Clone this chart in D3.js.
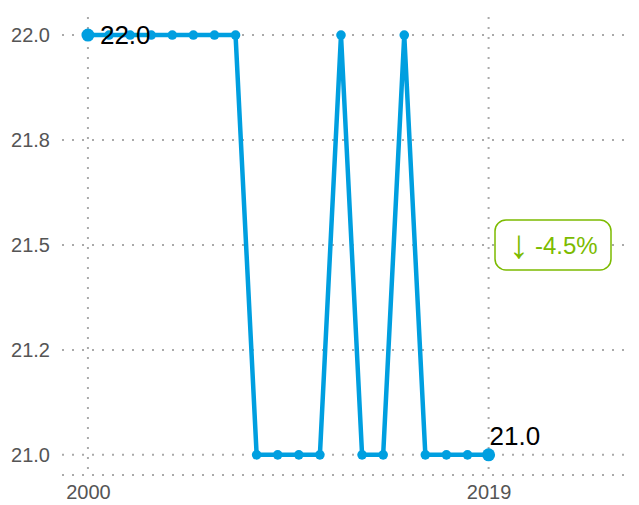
<!DOCTYPE html>
<html>
<head>
<meta charset="utf-8">
<script src="https://cdn.jsdelivr.net/npm/d3@7"></script>
<style>
  body { margin: 0; background: #fff; }
  svg text { font-family: "Liberation Sans", Arial, sans-serif; }
</style>
</head>
<body>
<svg id="chart" width="639" height="505"></svg>
<script>
// data
const years = [2000, 2001, 2002, 2003, 2004, 2005, 2006, 2007, 2008, 2009,
               2010, 2011, 2012, 2013, 2014, 2015, 2016, 2017, 2018, 2019];
const values = [22, 22, 22, 22, 22, 22, 22, 22, 21, 21,
                21, 21, 22, 21, 21, 22, 21, 21, 21, 21];
const yTicks = [21.0, 21.25, 21.5, 21.75, 22.0];
const yTickLabels = ["21.0", "21.2", "21.5", "21.8", "22.0"];
const xTicks = [2000, 2019];
const changeArrow = "↓";
const changeText = "-4.5%";

const svg = d3.select("#chart");
const blue = "#009fe0";
const green = "#7cbb00";
const gridColor = "#aaa";

const xScale = d3.scaleLinear().domain([1998.77, 2025.8]).range([62, 632]);
const yScale = d3.scaleLinear().domain([20.952, 22.043]).range([475, 17]);

const data = years.map((y, i) => ({ year: y, value: values[i] }));

// horizontal grid
svg.append("g")
  .selectAll("line")
  .data(yTicks)
  .enter()
  .append("line")
  .attr("x1", xScale.range()[0])
  .attr("x2", xScale.range()[1])
  .attr("y1", d => yScale(d))
  .attr("y2", d => yScale(d))
  .attr("stroke", gridColor)
  .attr("stroke-width", 2)
  .attr("stroke-dasharray", "2,8");

// bottom baseline
svg.append("line")
  .attr("x1", xScale.range()[0])
  .attr("x2", xScale.range()[1])
  .attr("y1", yScale.range()[0])
  .attr("y2", yScale.range()[0])
  .attr("stroke", gridColor)
  .attr("stroke-width", 2)
  .attr("stroke-dasharray", "2,8");

// vertical grid
svg.append("g")
  .selectAll("line")
  .data(xTicks)
  .enter()
  .append("line")
  .attr("x1", d => xScale(d))
  .attr("x2", d => xScale(d))
  .attr("y1", yScale.range()[1])
  .attr("y2", yScale.range()[0])
  .attr("stroke", gridColor)
  .attr("stroke-width", 2)
  .attr("stroke-dasharray", "2,8");

// y axis labels
const yAxis = d3.axisLeft(yScale)
  .tickValues(yTicks)
  .tickFormat((d, i) => yTickLabels[i])
  .tickSize(0)
  .tickPadding(12);
svg.append("g")
  .attr("transform", `translate(${xScale.range()[0]},0)`)
  .call(yAxis)
  .call(g => g.select(".domain").remove())
  .selectAll("text")
  .attr("fill", "#555")
  .style("font-size", "20px")
  .style("font-family", "Liberation Sans, Arial, sans-serif");

// x axis labels
const xAxis = d3.axisBottom(xScale).tickValues(xTicks).tickFormat(d3.format("d")).tickSize(0).tickPadding(10);
svg.append("g")
  .attr("transform", `translate(0,${yScale.range()[0]})`)
  .call(xAxis)
  .call(g => g.select(".domain").remove())
  .selectAll("text")
  .attr("fill", "#555")
  .style("font-size", "20px")
  .style("font-family", "Liberation Sans, Arial, sans-serif");

// line
const line = d3.line()
  .x(d => xScale(d.year))
  .y(d => yScale(d.value));

svg.append("path")
  .datum(data)
  .attr("d", line)
  .attr("fill", "none")
  .attr("stroke", blue)
  .attr("stroke-width", 4.5)
  .attr("stroke-linejoin", "round");

// points
svg.append("g")
  .selectAll("circle")
  .data(data)
  .enter()
  .append("circle")
  .attr("cx", d => xScale(d.year))
  .attr("cy", d => yScale(d.value))
  .attr("r", (d, i) => (i === 0 || i === data.length - 1) ? 6.5 : 4.8)
  .attr("fill", blue);

// end labels
const first = data[0];
const last = data[data.length - 1];
svg.append("text")
  .attr("x", xScale(first.year) + 12)
  .attr("y", yScale(first.value) + 9)
  .attr("fill", "#000")
  .style("font-size", "26px")
  .text(d3.format(".1f")(first.value));

svg.append("text")
  .attr("x", xScale(last.year) + 1)
  .attr("y", yScale(last.value) - 10)
  .attr("fill", "#000")
  .style("font-size", "26px")
  .text(d3.format(".1f")(last.value));

// change badge
const midY = yScale(21.5);
const badge = svg.append("g");
badge.append("rect")
  .attr("x", 495)
  .attr("y", midY - 25)
  .attr("width", 116)
  .attr("height", 50)
  .attr("rx", 11)
  .attr("fill", "#fff")
  .attr("stroke", green)
  .attr("stroke-width", 1.5);
const badgeText = badge.append("text")
  .attr("x", 509)
  .attr("y", midY + 9)
  .attr("fill", green)
  .style("font-size", "24px")
  .style("font-family", "Liberation Sans, Arial, sans-serif");
badgeText.append("tspan")
  .attr("dy", 4)
  .style("font-size", "40px")
  .text(changeArrow);
badgeText.append("tspan")
  .attr("dy", -4)
  .attr("dx", 6)
  .text(changeText);
</script>
</body>
</html>
